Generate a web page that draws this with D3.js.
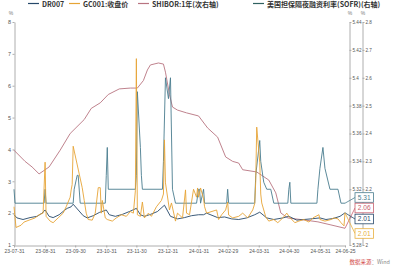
<!DOCTYPE html>
<html><head><meta charset="utf-8">
<script src="https://cdn.jsdelivr.net/npm/d3@7"></script>
<style>
html,body{margin:0;padding:0;background:#fff;}
svg{display:block;font-family:"Liberation Sans",Arial,sans-serif;}
</style></head><body>
<svg id="c" width="393" height="267"></svg>
<script>
// ---------- data ----------
const seriesNames = ["DR007","GC001:收盘价","SHIBOR:1年(次右轴)","美国担保隔夜融资利率(SOFR)(右轴)"];
const xTickLabels = ["23-07-31","23-08-31","23-09-30","23-10-31","23-11-30","23-12-31","24-01-31","24-02-29","24-03-31","24-04-30","24-05-31","24-06-25"];
const leftTicks = [1,2,3,4,5,6,7,8];
const right1Ticks = [5.28,5.30,5.32,5.34,5.36,5.38,5.40,5.42,5.44];
const right2Ticks = [2.0,2.1,2.2,2.3,2.4,2.5,2.6,2.7,2.8];
const lastValues = ["5.31","2.06","2.01","2.01"];

const dr007 = [["23-07-31",1.95],["23-08-03",1.85],["23-08-09",1.80],["23-08-16",1.86],["23-08-23",1.90],["23-08-28",2.00],["23-08-31",2.10],["23-09-04",1.90],["23-09-08",1.86],["23-09-14",1.95],["23-09-19",2.08],["23-09-22",2.15],["23-09-26",2.20],["23-09-28",2.28],["23-10-08",1.92],["23-10-12",1.85],["23-10-18",1.92],["23-10-24",2.02],["23-10-31",2.10],["23-11-03",1.95],["23-11-09",1.90],["23-11-16",1.96],["23-11-23",2.05],["23-11-30",2.15],["23-12-04",1.95],["23-12-08",1.90],["23-12-14",1.96],["23-12-21",2.05],["23-12-28",2.25],["24-01-03",1.90],["24-01-10",1.82],["24-01-17",1.86],["24-01-24",1.92],["24-01-31",1.95],["24-02-05",1.95],["24-02-08",2.00],["24-02-19",1.86],["24-02-26",1.88],["24-03-04",1.82],["24-03-11",1.80],["24-03-19",1.85],["24-03-27",1.95],["24-04-01",2.03],["24-04-08",1.85],["24-04-15",1.80],["24-04-24",1.85],["24-04-30",1.90],["24-05-08",1.78],["24-05-15",1.80],["24-05-22",1.82],["24-05-31",1.85],["24-06-06",1.80],["24-06-13",1.83],["24-06-20",1.90],["24-06-25",2.01]];

const gc001 = [["23-07-31",2.20],["23-08-02",1.55],["23-08-07",1.62],["23-08-10",1.72],["23-08-15",1.78],["23-08-21",1.85],["23-08-25",1.95],["23-08-29",2.00],["23-08-31",3.60],["23-09-01",1.90],["23-09-05",1.75],["23-09-08",1.70],["23-09-13",1.85],["23-09-18",2.00],["23-09-21",2.20],["23-09-25",2.50],["23-09-26",2.73],["23-09-27",2.90],["23-09-28",4.10],["23-10-07",2.80],["23-10-09",2.40],["23-10-11",2.00],["23-10-13",1.80],["23-10-17",1.78],["23-10-20",2.00],["23-10-23",2.80],["23-10-25",2.80],["23-10-26",2.00],["23-10-27",2.40],["23-10-30",1.85],["23-11-01",1.80],["23-11-06",1.75],["23-11-10",1.85],["23-11-15",1.95],["23-11-20",1.90],["23-11-24",2.05],["23-11-27",2.00],["23-11-29",2.70],["23-11-30",6.85],["23-12-01",1.95],["23-12-04",1.90],["23-12-06",2.35],["23-12-08",1.85],["23-12-12",2.00],["23-12-15",1.90],["23-12-20",2.20],["23-12-25",2.40],["23-12-27",2.60],["23-12-28",4.30],["23-12-29",2.95],["24-01-02",2.10],["24-01-04",2.32],["24-01-08",1.75],["24-01-10",2.00],["24-01-15",1.85],["24-01-18",2.73],["24-01-19",2.00],["24-01-22",1.95],["24-01-26",2.75],["24-01-29",2.50],["24-01-30",2.79],["24-01-31",2.50],["24-02-02",2.79],["24-02-05",2.45],["24-02-06",2.20],["24-02-08",2.00],["24-02-18",2.10],["24-02-20",1.80],["24-02-23",1.95],["24-02-27",2.10],["24-02-29",2.35],["24-03-01",1.94],["24-03-05",1.85],["24-03-11",1.90],["24-03-15",2.00],["24-03-20",1.85],["24-03-25",2.10],["24-03-27",2.30],["24-03-28",3.00],["24-03-29",4.70],["24-04-01",3.60],["24-04-02",2.60],["24-04-03",2.32],["24-04-07",1.88],["24-04-10",1.75],["24-04-15",1.80],["24-04-19",1.70],["24-04-24",1.85],["24-04-28",2.00],["24-04-30",1.90],["24-05-06",1.70],["24-05-10",1.75],["24-05-15",1.80],["24-05-20",1.72],["24-05-24",1.85],["24-05-30",1.95],["24-05-31",1.80],["24-06-05",1.75],["24-06-11",1.80],["24-06-14",1.85],["24-06-18",1.82],["24-06-21",1.70],["24-06-24",1.60],["24-06-25",2.01]];

const shibor = [["23-07-31",2.34],["23-08-11",2.30],["23-08-18",2.28],["23-08-25",2.255],["23-09-04",2.28],["23-09-15",2.34],["23-09-25",2.40],["23-10-09",2.45],["23-10-16",2.49],["23-10-25",2.51],["23-11-02",2.54],["23-11-13",2.56],["23-11-24",2.563],["23-12-01",2.563],["23-12-07",2.59],["23-12-11",2.628],["23-12-14",2.646],["23-12-22",2.653],["23-12-27",2.649],["23-12-29",2.62],["24-01-02",2.54],["24-01-05",2.495],["24-01-10",2.484],["24-01-19",2.474],["24-01-31",2.463],["24-02-09",2.42],["24-02-19",2.387],["24-02-27",2.316],["24-03-05",2.30],["24-03-11",2.294],["24-03-15",2.27],["24-03-29",2.262],["24-04-10",2.233],["24-04-17",2.187],["24-04-22",2.115],["24-04-29",2.097],["24-05-15",2.09],["24-05-29",2.083],["24-06-11",2.072],["24-06-25",2.06]];

const sofr = [["23-07-31",5.32],["23-08-01",5.31],["23-08-30",5.31],["23-08-31",5.32],["23-09-01",5.31],["23-09-28",5.31],["23-09-29",5.32],["23-10-02",5.33],["23-10-03",5.33],["23-10-05",5.31],["23-10-30",5.31],["23-10-31",5.33],["23-11-01",5.35],["23-11-02",5.32],["23-11-29",5.32],["23-11-30",5.33],["23-12-01",5.39],["23-12-04",5.35],["23-12-05",5.33],["23-12-06",5.32],["23-12-26",5.32],["23-12-27",5.34],["23-12-29",5.40],["24-01-01",5.385],["24-01-03",5.40],["24-01-05",5.32],["24-01-08",5.31],["24-01-29",5.31],["24-01-31",5.32],["24-02-01",5.32],["24-02-02",5.31],["24-02-05",5.32],["24-02-06",5.31],["24-02-28",5.31],["24-02-29",5.32],["24-03-01",5.31],["24-03-27",5.31],["24-03-28",5.33],["24-04-01",5.355],["24-04-02",5.34],["24-04-05",5.325],["24-04-08",5.32],["24-04-12",5.32],["24-04-15",5.31],["24-04-29",5.31],["24-04-30",5.32],["24-05-01",5.325],["24-05-02",5.31],["24-05-28",5.31],["24-05-29",5.32],["24-05-31",5.335],["24-06-03",5.35],["24-06-05",5.335],["24-06-10",5.32],["24-06-18",5.32],["24-06-21",5.31],["24-06-25",5.31]];

// ---------- drawing ----------
const parse = d3.timeParse("%y-%m-%d");
const svg = d3.select("#c");
const colors = {dr:"#26486a", gc:"#e6a435", sh:"#b87480", so:"#4a7d8e"};

const x = d3.scaleTime().domain([parse("23-07-31"), parse("24-06-25")]).range([14, 345]);
const yL = d3.scaleLinear().domain([1, 8]).range([245, 22]);
const yR1 = d3.scaleLinear().domain([5.28, 5.44]).range([245, 22]);
const yR2 = d3.scaleLinear().domain([2.0, 2.8]).range([245, 22]);

const fmt = d => String(+d.toFixed(2));
// labels of ticks that sit behind the end-value boxes are not visible
const hiddenR1 = [5.30], hiddenR2 = [2.1];
const fmtR1 = d => hiddenR1.some(h => Math.abs(h - d) < 1e-9) ? "" : fmt(d);
const fmtR2 = d => hiddenR2.some(h => Math.abs(h - d) < 1e-9) ? "" : fmt(d);
const axisColor = "#9a9a9a", labelColor = "#555";

function styleAxis(g, fs){
  g.selectAll("path.domain").attr("stroke", axisColor).attr("stroke-width", 0.8);
  g.selectAll(".tick line").attr("stroke", axisColor).attr("stroke-width", 0.8);
  g.selectAll(".tick text").attr("fill", labelColor).style("font-size", fs + "px").style("font-family","Liberation Sans, Arial, sans-serif");
}

// x axis
const gx = svg.append("g").attr("transform","translate(0,245.5)")
  .call(d3.axisBottom(x).tickValues(xTickLabels.map(parse)).tickFormat(d3.timeFormat("%y-%m-%d")).tickSize(2).tickSizeOuter(0).tickPadding(2));
styleAxis(gx, 5);

// left axis
const gl = svg.append("g").attr("transform","translate(14.5,0)")
  .call(d3.axisLeft(yL).tickValues(leftTicks).tickFormat(fmt).tickSize(2).tickSizeOuter(0).tickPadding(1.5));
styleAxis(gl, 5.5);

// right axes
const gr1 = svg.append("g").attr("transform","translate(349.5,0)")
  .call(d3.axisRight(yR1).tickValues(right1Ticks).tickFormat(fmtR1).tickSize(2).tickSizeOuter(0).tickPadding(1));
styleAxis(gr1, 4.6);
const gr2 = svg.append("g").attr("transform","translate(362.5,0)")
  .call(d3.axisRight(yR2).tickValues(right2Ticks).tickFormat(fmtR2).tickSize(2).tickSizeOuter(0).tickPadding(1));
styleAxis(gr2, 4.6);

// unit labels
[[11,15],[350,15],[363,15]].forEach(p => svg.append("text").attr("x",p[0]).attr("y",p[1]).text("%")
  .attr("fill","#777").style("font-size","5px").attr("text-anchor","middle"));

// lines
function drawLine(data, yScale, color){
  const line = d3.line().x(d => x(parse(d[0]))).y(d => yScale(d[1]));
  svg.append("path").datum(data).attr("d", line).attr("fill","none")
    .attr("stroke", color).attr("stroke-width", 0.9).attr("stroke-linejoin","round");
}
drawLine(shibor, yR2, colors.sh);
drawLine(sofr, yR1, colors.so);
drawLine(dr007, yL, colors.dr);
drawLine(gc001, yL, colors.gc);

// end-value boxes
const ends = [
  {v: sofr[sofr.length-1], s: yR1, c: colors.so, by: 197.5, t: lastValues[0]},
  {v: shibor[shibor.length-1], s: yR2, c: "#c8606e", by: 208, t: lastValues[1]},
  {v: dr007[dr007.length-1], s: yL, c: colors.dr, by: 219, t: lastValues[2]},
  {v: gc001[gc001.length-1], s: yL, c: "#e8b040", by: 233.5, t: lastValues[3]}
];
ends.forEach(e => {
  const ex = x(parse(e.v[0])), ey = e.s(e.v[1]);
  svg.append("line").attr("x1", ex).attr("y1", ey).attr("x2", 355).attr("y2", e.by)
    .attr("stroke", e.c).attr("stroke-width", 0.8);
  svg.append("rect").attr("x", 355).attr("y", e.by - 4.8).attr("width", 18.5).attr("height", 9.6)
    .attr("fill","#fff").attr("stroke", e.c).attr("stroke-width", 0.8);
  svg.append("text").attr("x", 364.2).attr("y", e.by + 2.3).attr("text-anchor","middle")
    .attr("fill", e.c).style("font-size","6.6px").text(e.t);
});

// legend
const legendX = [28, 69, 138, 253];
const legendColors = [colors.dr, colors.gc, colors.sh, "#2f6160"];
seriesNames.forEach((n,i) => {
  svg.append("line").attr("x1", legendX[i]).attr("x2", legendX[i]+11).attr("y1", 3.5).attr("y2", 3.5)
    .attr("stroke", legendColors[i]).attr("stroke-width", 1.2);
  svg.append("text").attr("x", legendX[i]+14).attr("y", 6.6).text(n)
    .attr("fill","#333").style("font-size","7px").style("font-weight","bold")
    .style("font-family","'Noto Sans CJK SC','Liberation Sans',sans-serif");
});

// source
const src = svg.append("text").attr("x", 390).attr("y", 264).attr("text-anchor","end")
  .style("font-size","5.5px").style("font-family","'Noto Sans CJK SC',sans-serif");
src.append("tspan").attr("fill","#d24848").text("数据来源");
src.append("tspan").attr("fill","#888").text("：Wind");
</script>
</body></html>
